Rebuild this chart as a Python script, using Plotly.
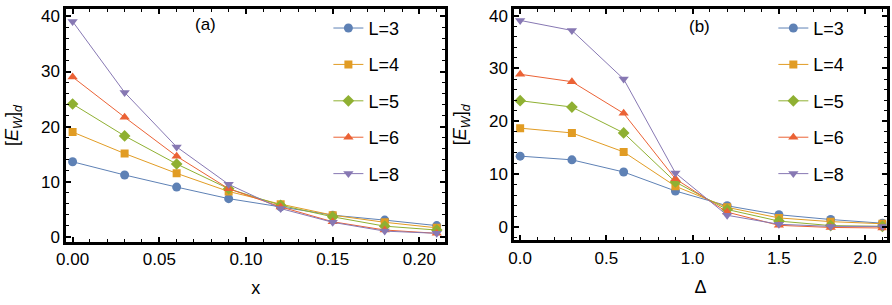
import plotly.graph_objects as go

# ---- data ----
x_a = [0.00, 0.03, 0.06, 0.09, 0.12, 0.15, 0.18, 0.21]
x_b = [0.0, 0.3, 0.6, 0.9, 1.2, 1.5, 1.8, 2.1]
labels = ["L=3", "L=4", "L=5", "L=6", "L=8"]

a_L3 = [13.6, 11.2, 9.0, 6.9, 5.4, 3.9, 3.0, 2.0]
a_L4 = [19.0, 15.1, 11.5, 8.2, 5.9, 3.9, 2.6, 1.6]
a_L5 = [24.1, 18.3, 13.2, 8.7, 5.7, 3.6, 1.9, 1.2]
a_L6 = [29.0, 21.7, 14.6, 8.7, 5.4, 2.7, 1.2, 0.6]
a_L8 = [39.1, 26.2, 16.3, 9.5, 5.1, 2.6, 1.0, 0.6]

b_L3 = [13.4, 12.7, 10.4, 6.8, 4.0, 2.3, 1.4, 0.7]
b_L4 = [18.7, 17.8, 14.2, 7.7, 3.7, 1.7, 1.0, 0.6]
b_L5 = [23.9, 22.7, 17.8, 8.5, 3.3, 1.1, 0.25, 0.1]
b_L6 = [28.9, 27.5, 21.5, 9.1, 2.8, 0.3, -0.1, -0.2]
b_L8 = [39.1, 37.2, 28.0, 10.2, 2.2, 0.5, 0.1, 0.1]

series_a = [a_L3, a_L4, a_L5, a_L6, a_L8]
series_b = [b_L3, b_L4, b_L5, b_L6, b_L8]

colors = ["#5E81B5", "#E19C24", "#8FB032", "#EB6235", "#8778B3"]
symbols = ["circle", "square", "diamond", "triangle-up", "triangle-down"]
sizes = [9, 8, 9, 9, 9]

FONT = "Liberation Sans, Arial, sans-serif"
fig = go.Figure()

for i, (lab, ys) in enumerate(zip(labels, series_a)):
    fig.add_trace(go.Scatter(
        x=x_a, y=ys, name=lab, mode="lines+markers",
        line=dict(color=colors[i], width=1),
        marker=dict(symbol=symbols[i], size=sizes[i], color=colors[i], line=dict(width=0)),
        xaxis="x", yaxis="y", legend="legend", legendgroup="a" + lab))
for i, (lab, ys) in enumerate(zip(labels, series_b)):
    fig.add_trace(go.Scatter(
        x=x_b, y=ys, name=lab, mode="lines+markers",
        line=dict(color=colors[i], width=1),
        marker=dict(symbol=symbols[i], size=sizes[i], color=colors[i], line=dict(width=0)),
        xaxis="x2", yaxis="y2", legend="legend2", legendgroup="b" + lab))

W, H = 892, 305

def px_x(p):
    return p / W

def px_y(p):
    return 1 - p / H

common_axis = dict(
    showline=True, linecolor="black", linewidth=3, mirror="allticks",
    ticks="inside", ticklen=5, tickwidth=1.5, tickcolor="black",
    showgrid=False, zeroline=False,
    tickfont=dict(family=FONT, size=17, color="black"),
)

ytitle = "[<i>E</i><sub><i>W</i></sub>]<sub><i>d</i></sub>"

fig.update_layout(
    width=W, height=H,
    margin=dict(l=0, r=0, t=0, b=0),
    paper_bgcolor="white", plot_bgcolor="white",
    font=dict(family=FONT, size=17, color="black"),
    xaxis=dict(domain=[px_x(57), px_x(440)], range=[-0.0036, 0.2148],
               dtick=0.05, tickformat=".2f", anchor="y",
               minor=dict(dtick=0.01, ticks="inside", ticklen=3, tickcolor="black", tickwidth=1.2),
               title=dict(text="x", font=dict(family=FONT, size=18), standoff=14),
               **common_axis),
    yaxis=dict(domain=[px_y(245), px_y(6.5)], range=[-0.9, 41.3],
               dtick=10, anchor="x",
               minor=dict(dtick=2, ticks="inside", ticklen=3, tickcolor="black", tickwidth=1.2),
               title=dict(text=ytitle, font=dict(family=FONT, size=18), standoff=18),
               **common_axis),
    xaxis2=dict(domain=[px_x(510), px_x(886.5)], range=[-0.034, 2.124],
                dtick=0.5, tickformat=".1f", anchor="y2",
                minor=dict(dtick=0.1, ticks="inside", ticklen=3, tickcolor="black", tickwidth=1.2),
                title=dict(text="Δ", font=dict(family=FONT, size=18), standoff=14),
                **common_axis),
    yaxis2=dict(domain=[px_y(243.5), px_y(6.5)], range=[-2.5, 41.2],
                dtick=10, anchor="x2",
                minor=dict(dtick=2, ticks="inside", ticklen=3, tickcolor="black", tickwidth=1.2),
                title=dict(text=ytitle, font=dict(family=FONT, size=18), standoff=18),
                **common_axis),
    legend=dict(x=px_x(322), y=px_y(7), xanchor="left", yanchor="top",
                bgcolor="rgba(0,0,0,0)", borderwidth=0, tracegroupgap=10,
                font=dict(family=FONT, size=18, color="black")),
    legend2=dict(x=px_x(772), y=px_y(7), xanchor="left", yanchor="top",
                 bgcolor="rgba(0,0,0,0)", borderwidth=0, tracegroupgap=10,
                 font=dict(family=FONT, size=18, color="black")),
    annotations=[
        dict(text="(a)", x=px_x(198), y=px_y(22), xref="paper", yref="paper",
             xanchor="center", yanchor="middle",
             showarrow=False, font=dict(family=FONT, size=17, color="black")),
        dict(text="(b)", x=px_x(697), y=px_y(24), xref="paper", yref="paper",
             xanchor="center", yanchor="middle",
             showarrow=False, font=dict(family=FONT, size=17, color="black")),
    ],
)

fig.write_html("out.html", config={"displayModeBar": False},
               post_script="document.body.style.margin='0';document.body.style.overflow='hidden';")
